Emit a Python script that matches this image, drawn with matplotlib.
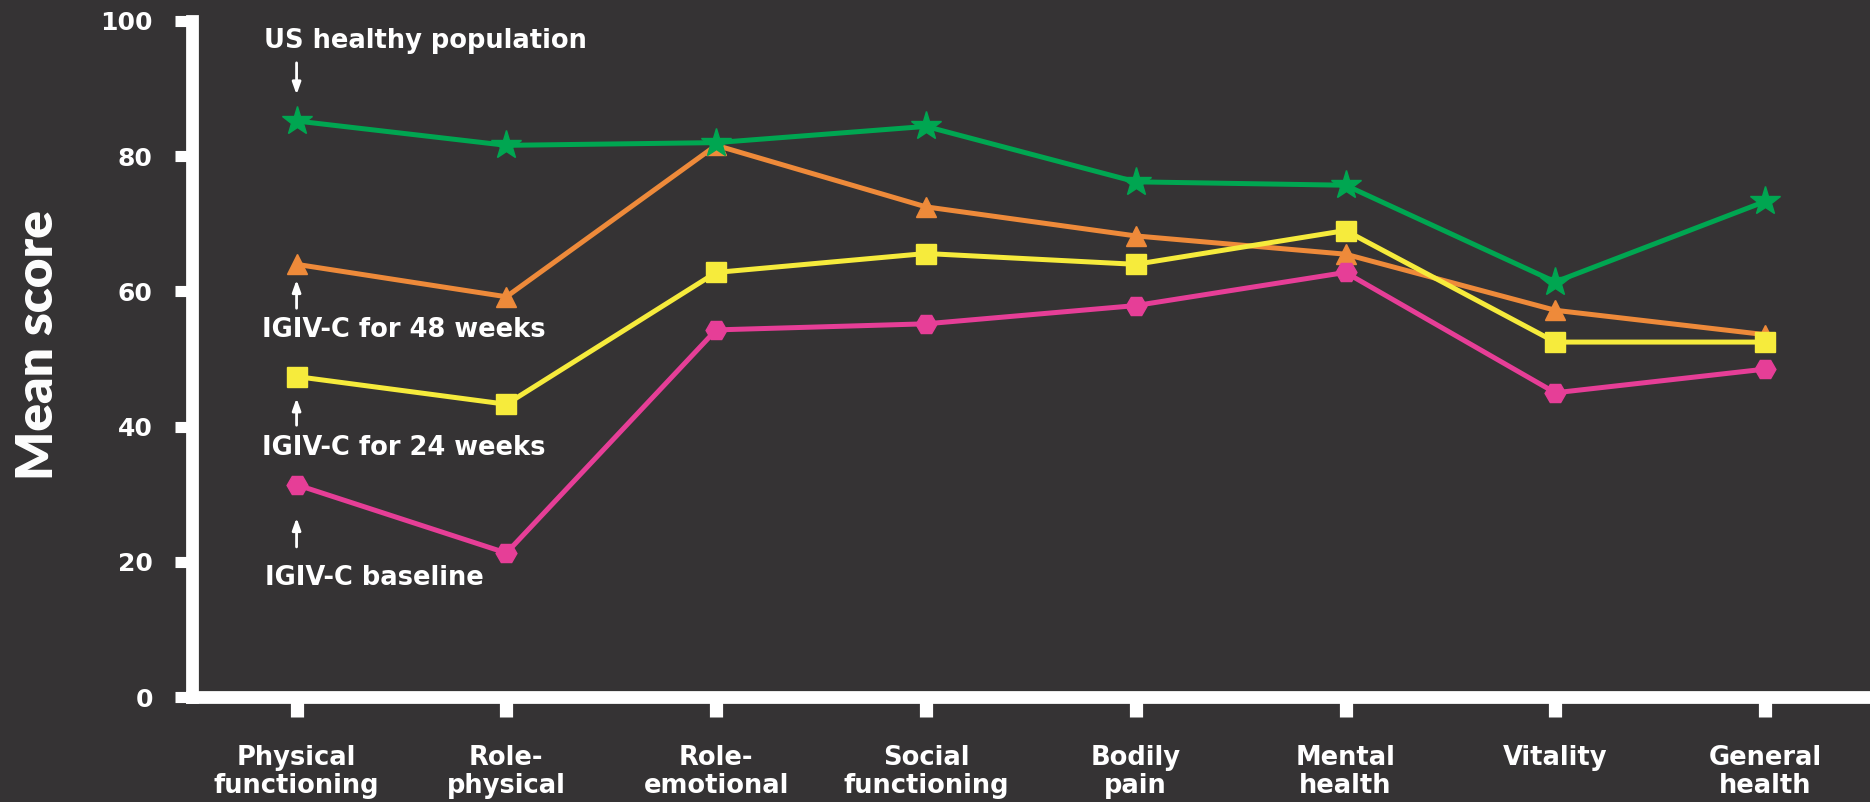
import matplotlib
matplotlib.use("Agg")
import matplotlib.pyplot as plt

categories = ["Physical\nfunctioning", "Role-\nphysical", "Role-\nemotional", "Social\nfunctioning",
              "Bodily\npain", "Mental\nhealth", "Vitality", "General\nhealth"]
us_healthy = [85.2, 81.6, 82.0, 84.4, 76.2, 75.7, 61.4, 73.3]
igiv_48 = [64.0, 59.2, 81.6, 72.5, 68.2, 65.5, 57.2, 53.6]
igiv_24 = [47.4, 43.3, 62.8, 65.6, 64.0, 69.0, 52.5, 52.5]
igiv_base = [31.4, 21.3, 54.3, 55.2, 57.9, 62.8, 45.0, 48.5]
yticks = [0, 20, 40, 60, 80, 100]

BG = "#353334"
WHITE = "#FFFFFF"
plt.rcParams['font.family'] = ['DejaVu Sans']
plt.rcParams['font.weight'] = 'bold'

fig = plt.figure(figsize=(18.7, 8.02), dpi=100, facecolor=BG)
ax = fig.add_axes([0.1025, 0.1309, 0.8975, 0.843], facecolor=BG)

x = list(range(len(categories)))
ax.plot(x, igiv_48, color="#EE8A3A", lw=3.6, marker="^", ms=15, zorder=3, clip_on=False)
ax.plot(x, igiv_base, color="#E63E97", lw=3.6, marker="H", ms=15, zorder=4, clip_on=False)
ax.plot(x, igiv_24, color="#F6EB3C", lw=3.6, marker="s", ms=14, zorder=5, clip_on=False)
ax.plot(x, us_healthy, color="#00A651", lw=3.6, marker="*", ms=22, zorder=6, clip_on=False)

ax.set_xlim(-0.5, 7.5)
ax.set_ylim(0, 100)
ax.set_xticks(x)
ax.set_xticklabels(categories, fontsize=18.5, fontweight='bold', color=WHITE, linespacing=1.12)
ax.set_yticks(yticks)
ax.set_yticklabels([str(v) for v in yticks], fontsize=18, fontweight='bold', color=WHITE)
ax.tick_params(axis='x', length=14.5, width=9.5, color=WHITE, pad=20, direction='out')
ax.tick_params(axis='y', length=12, width=8, color=WHITE, pad=16, direction='out')
for s in ['top', 'right']:
    ax.spines[s].set_visible(False)
for s in ['left', 'bottom']:
    ax.spines[s].set_color(WHITE)
    ax.spines[s].set_linewidth(9.2)
    ax.spines[s].set_capstyle('projecting')

fig.text(0.0205, 0.5692, "Mean score", fontsize=37, fontweight='heavy', color=WHITE,
         rotation=90, ha='center', va='center', family=['Lato', 'DejaVu Sans'])

# annotations
arrow = dict(arrowstyle="-|>,head_length=0.7,head_width=0.25", color=WHITE, lw=2.0,
             shrinkA=0, shrinkB=0)
ann = dict(fontsize=18.5, fontweight='bold', color=WHITE, ha='left', va='baseline')
ax.text(-0.157, 96.0, "US healthy population", **ann)
ax.annotate("", xy=(0, 89.1), xytext=(0, 93.8), arrowprops=arrow)

ax.text(-0.167, 53.3, "IGIV-C for 48 weeks", **ann)
ax.annotate("", xy=(0, 61.7), xytext=(0, 57.5), arrowprops=arrow)

ax.text(-0.167, 35.8, "IGIV-C for 24 weeks", **ann)
ax.annotate("", xy=(0, 44.2), xytext=(0, 40.2), arrowprops=arrow)

ax.text(-0.15, 16.6, "IGIV-C baseline", **ann)
ax.annotate("", xy=(0, 26.5), xytext=(0, 22.2), arrowprops=arrow)

fig.savefig("out.png", dpi=100, facecolor=BG)
